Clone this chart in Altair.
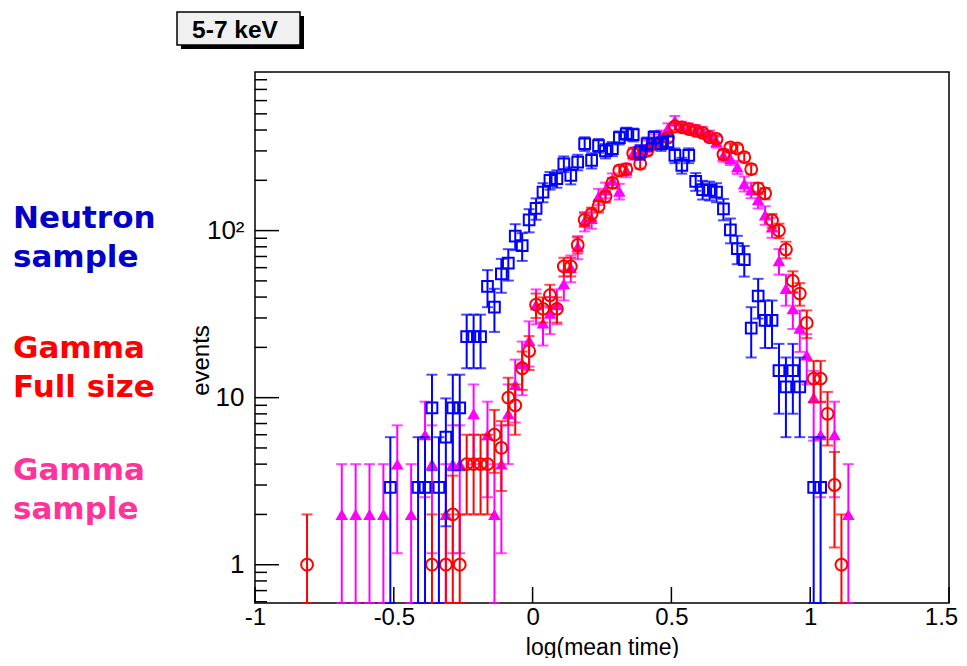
import altair as alt
import numpy as np
import pandas as pd

# ---------------- data ----------------
X_TICKS = [-1, -0.5, 0, 0.5, 1, 1.5]
Y_MAJOR = [1, 10, 100]
Y_MINOR = [0.6, 0.7, 0.8, 0.9, 2, 3, 4, 5, 6, 7, 8, 9,
           20, 30, 40, 50, 60, 70, 80, 90, 200, 300, 400, 500, 600, 700, 800]
Y_MIN, Y_MAX = 0.59, 890

neutron_x = [-0.5125, -0.4125, -0.3875, -0.3625, -0.3375, -0.3125, -0.2875, -0.2625, -0.2375, -0.2125,
             -0.1875, -0.1625, -0.1375, -0.1125, -0.0875, -0.0625, -0.0375, -0.0125, 0.0125, 0.0375,
             0.0625, 0.0875, 0.1125, 0.1375, 0.1625, 0.1875, 0.2125, 0.2375, 0.2625, 0.2875,
             0.3125, 0.3375, 0.3625, 0.3875, 0.4125, 0.4375, 0.4625, 0.4875, 0.5125, 0.5375,
             0.5625, 0.5875, 0.6125, 0.6375, 0.6625, 0.6875, 0.7125, 0.7375, 0.7625, 0.7875,
             0.8125, 0.8375, 0.8625, 0.8875, 0.9125, 0.9375, 0.9625, 1.0125, 1.0375]
neutron_y = [2.9, 2.9, 2.9, 8.7, 2.9, 5.8, 8.7, 8.7, 23.2, 23.2,
             23.2, 46.4, 34.8, 55.1, 63.8, 92.8, 81.2, 116, 136, 170,
             200, 205, 251, 214, 257, 331, 263, 323, 300, 309,
             360, 380, 375, 295, 330, 362, 331, 340, 282, 246,
             282, 197, 176, 174, 170, 135, 101, 78, 67, 26.1,
             40.6, 29, 29, 14.5, 11.6, 14.5, 11.6, 2.9, 2.9]

gfull_x = [-0.8125, -0.3625, -0.3125, -0.2875, -0.2625, -0.2375, -0.2125, -0.1875, -0.1625, -0.1375,
           -0.1125, -0.0875, -0.0625, -0.0375, -0.0125, 0.0125, 0.0375, 0.0625, 0.0875, 0.1125,
           0.1375, 0.1625, 0.1875, 0.2125, 0.2375, 0.2625, 0.2875, 0.3125, 0.3375, 0.3625,
           0.3875, 0.4125, 0.4375, 0.4625, 0.4875, 0.5125, 0.5375, 0.5625, 0.5875, 0.6125,
           0.6375, 0.6625, 0.6875, 0.7125, 0.7375, 0.7625, 0.7875, 0.8125, 0.8375, 0.8625,
           0.8875, 0.9125, 0.9375, 0.9625, 0.9875, 1.0125, 1.0375, 1.0625, 1.0875, 1.1125]
gfull_y = [1, 1, 1, 2, 1, 4, 4, 4, 4, 6,
           5, 10, 9, 15, 19, 36, 34, 41, 34, 61,
           61, 82, 116, 126, 140, 160, 193, 229, 233, 290,
           251, 300, 330, 340, 360, 420, 415, 405, 395, 385,
           362, 354, 286, 315, 310, 275, 233, 179, 167, 115,
           100, 77, 50, 42, 28, 13, 13, 8, 3, 1]

gsamp_x = [-0.6875, -0.6375, -0.5875, -0.5375, -0.4875, -0.4375, -0.3875, -0.3625, -0.3125, -0.2875,
           -0.2625, -0.2125, -0.1625, -0.1375, -0.1125, -0.0875, -0.0625, -0.0375, -0.0125, 0.0125,
           0.0375, 0.0625, 0.0875, 0.1125, 0.1375, 0.1625, 0.1875, 0.2125, 0.2375, 0.2625,
           0.2875, 0.3125, 0.3375, 0.3625, 0.3875, 0.4125, 0.4375, 0.4625, 0.4875, 0.5125,
           0.5375, 0.5625, 0.5875, 0.6125, 0.6375, 0.6625, 0.6875, 0.7125, 0.7375, 0.7625,
           0.7875, 0.8125, 0.8375, 0.8625, 0.8875, 0.9125, 0.9375, 0.9625, 0.9875, 1.0125,
           1.0375, 1.0875, 1.1375]
gsamp_y = [2, 2, 2, 2, 4, 2, 6, 4, 2, 4,
           4, 8, 6, 2, 4, 8, 12, 16, 22, 36,
           28, 32, 36, 48, 60, 80, 114, 118, 160, 175,
           200, 172, 230, 290, 300, 320, 350, 370, 410, 455,
           420, 410, 400, 390, 370, 340, 282, 270, 240, 191,
           175, 153, 124, 105, 66, 45, 34, 26, 18, 10,
           6, 6, 2]

# event weight of each histogram (error = weight * sqrt(N) = sqrt(weight * value))
WEIGHTS = {"neutron": 2.9, "gfull": 1.0, "gsamp": 2.0}
COLORS = {"neutron": "#0000ff", "gfull": "#ff0000", "gsamp": "#ff00ff"}

W, H = 694, 531
FONT = "Liberation Sans Narrow, Liberation Sans, Arial, sans-serif"


def frame(xs, ys, w):
    df = pd.DataFrame({"x": xs, "y": ys})
    err = np.sqrt(w * df["y"])
    df["lo"] = np.maximum(df["y"] - err, Y_MIN)
    df["hi"] = np.minimum(df["y"] + err, Y_MAX)
    return df


xsc = alt.Scale(domain=[-1, 1.5], nice=False, zero=False)
ysc = alt.Scale(type="log", domain=[Y_MIN, Y_MAX], nice=False)


def series(df, color, shape, filled, size):
    base = alt.Chart(df)
    X = alt.X("x:Q", scale=xsc, axis=None)
    rule = base.mark_rule(color=color, strokeWidth=2).encode(
        x=X, y=alt.Y("lo:Q", scale=ysc, axis=None), y2="hi:Q")
    cap_lo = base.mark_tick(color=color, orient="horizontal", size=11, thickness=2).encode(
        x=X, y=alt.Y("lo:Q", scale=ysc, axis=None))
    cap_hi = base.mark_tick(color=color, orient="horizontal", size=11, thickness=2).encode(
        x=X, y=alt.Y("hi:Q", scale=ysc, axis=None))
    pts = base.mark_point(shape=shape, filled=filled, color=color, size=size,
                          strokeWidth=2, opacity=1).encode(
        x=X, y=alt.Y("y:Q", scale=ysc, axis=None))
    return [rule, cap_lo, cap_hi, pts]


d_neu = frame(neutron_x, neutron_y, WEIGHTS["neutron"])
d_gf = frame(gfull_x, gfull_y, WEIGHTS["gfull"])
d_gs = frame(gsamp_x, gsamp_y, WEIGHTS["gsamp"])

layers = []
layers += series(d_gs, COLORS["gsamp"], "triangle-up", True, 160)
layers += series(d_gf, COLORS["gfull"], "circle", False, 140)
layers += series(d_neu, COLORS["neutron"], "square", False, 115)

# ---------------- axes (ticks drawn inside the frame, ROOT style) ----------------
df_xt = pd.DataFrame({"v": X_TICKS})
x_axis = alt.Chart(df_xt).mark_rule(color="black", strokeWidth=1.5).encode(
    x=alt.X("v:Q", scale=xsc, axis=alt.Axis(
        orient="bottom",
        values=X_TICKS, ticks=False, domain=False, grid=False,
        labelExpr="toString(datum.value)", labelFlush=False,
        labelOffset={"condition": {"test": "datum.value == 1.5", "value": -8}, "value": 0},
        labelFont=FONT, labelFontSize=24, labelColor="black", labelPadding=2,
        title="log(mean time)", titleFont=FONT, titleFontSize=23, titleFontWeight="normal",
        titleColor="black", titleBaseline="alphabetic", titleY=51)),
    y=alt.value(H), y2=alt.value(H - 16))

df_ymaj = pd.DataFrame({"v": Y_MAJOR})
y_axis = alt.Chart(df_ymaj).mark_rule(color="black", strokeWidth=1.5).encode(
    y=alt.Y("v:Q", scale=ysc, axis=alt.Axis(
        orient="left",
        values=Y_MAJOR, ticks=False, domain=False, grid=False,
        labelExpr="datum.value == 100 ? '10\u00b2' : toString(datum.value)",
        labelFont=FONT, labelFontSize=26, labelColor="black", labelPadding=11,
        title="events", titleFont=FONT, titleFontSize=24, titleFontWeight="normal",
        titleColor="black", titleX=-47, titleY=288, titleAngle=270,
        titleAlign="center", titleBaseline="alphabetic")),
    x=alt.value(0), x2=alt.value(24))

df_ymin = pd.DataFrame({"v": Y_MINOR})
y_minor = alt.Chart(df_ymin).mark_rule(color="black", strokeWidth=1.5).encode(
    y=alt.Y("v:Q", scale=ysc, axis=None), x=alt.value(0), x2=alt.value(12))

# ---------------- annotations ----------------
one = pd.DataFrame({"a": [0]})
notes = []
for lines, color, y0 in [(["Neutron", "sample"], "#0000c8", 156),
                         (["Gamma", "Full size"], "#ff0000", 286),
                         (["Gamma", "sample"], "#ff3399", 408)]:
    notes.append(alt.Chart(one).mark_text(
        align="left", baseline="alphabetic", font="DejaVu Sans", fontWeight="bold",
        fontSize=31, lineHeight=39, color=color).encode(
        x=alt.value(-242), y=alt.value(y0), text=alt.value(lines)))

box_shadow = alt.Chart(one).mark_rect(color="black").encode(
    x=alt.value(-74), x2=alt.value(49), y=alt.value(-56), y2=alt.value(-23))
box = alt.Chart(one).mark_rect(fill="#f0f0f0", stroke="black", strokeWidth=1.5).encode(
    x=alt.value(-78), x2=alt.value(45), y=alt.value(-60), y2=alt.value(-27))
box_text = alt.Chart(one).mark_text(
    align="center", baseline="alphabetic", font="Liberation Sans", fontWeight="bold",
    fontSize=24.5, color="black").encode(
    x=alt.value(-20), y=alt.value(-34), text=alt.value("5-7 keV"))

chart = alt.layer(
    y_minor, y_axis, x_axis, *layers, box_shadow, box, box_text, *notes
).resolve_axis(
    x="independent", y="independent"
).properties(
    width=W, height=H,
    autosize=alt.AutoSizeParams(type="none"),
    padding={"left": 247, "top": 64, "right": 10, "bottom": 55},
    background="white",
).configure_view(stroke="black", strokeWidth=1.5)

chart.save("out.html", embed_options={"renderer": "svg", "actions": False})
